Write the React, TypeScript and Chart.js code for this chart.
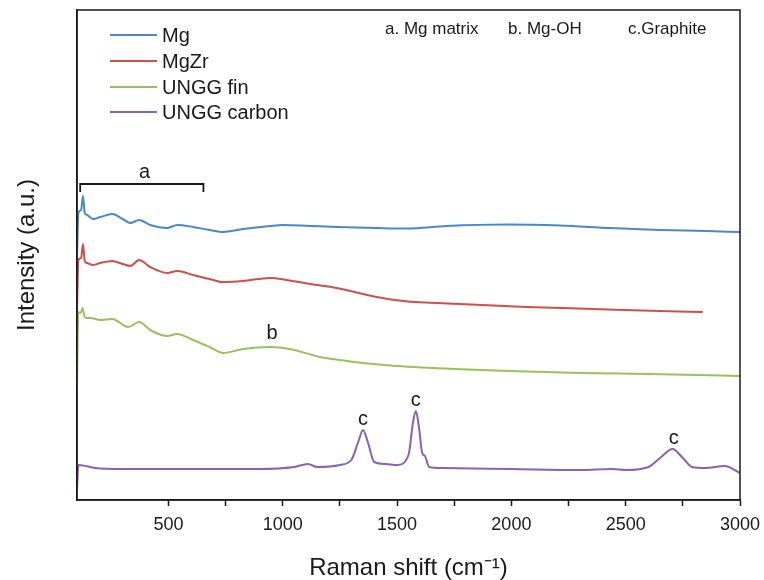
import React, { useEffect, useRef } from "react";
import { Chart, registerables } from "chart.js";

Chart.register(...registerables);

const FONT = "'Liberation Sans', Arial, sans-serif";
const INK = "#1a1a1a";

const seriesNames = ["Mg", "MgZr", "UNGG fin", "UNGG carbon"];
const seriesColors = ["#4a88cc", "#d04f4a", "#9bc25a", "#8a62b0"];

const mgX = [100, 106, 118, 126, 134, 144, 171, 202, 254, 300, 333, 372, 420, 494, 538, 608, 680, 739, 826, 944, 1001, 1120, 1236, 1411, 1542, 1716, 1979, 2211, 2430, 2648, 2850, 3000];
const mgY = [242, 287, 290, 304, 287, 285, 281, 283, 286, 281, 277, 280, 275, 272, 275, 273, 270, 268, 271, 274, 275, 274, 273, 272, 271.5, 274, 275.5, 274.5, 272, 270, 269, 268];

const mgzrX = [100, 106, 118, 126, 134, 144, 171, 202, 254, 300, 333, 372, 420, 494, 538, 608, 680, 739, 826, 944, 1017, 1120, 1236, 1411, 1527, 1775, 2065, 2357, 2648, 2837];
const mgzrY = [188, 240, 242, 256, 239, 237, 235, 237, 239, 236, 234, 240, 233, 227, 229, 225, 221, 218, 219, 222, 220, 216, 212, 203, 199, 196, 193, 191, 189, 188];

const fineX = [100, 106, 116, 124, 132, 140, 158, 202, 254, 324, 372, 420, 494, 538, 608, 680, 739, 826, 944, 1031, 1162, 1250, 1350, 1500, 1750, 2000, 2300, 2600, 3000];
const fineY = [115, 188, 187, 192, 184, 182, 182, 180, 181, 173, 178, 170, 164, 166, 160, 153, 147, 151, 153, 151, 143, 140, 137, 134, 131, 129, 127, 126, 124];

const carbonX = [100, 106, 180, 300, 500, 700, 900, 1050, 1110, 1150, 1250, 1300, 1330, 1351, 1372, 1400, 1450, 1500, 1550, 1570, 1582, 1595, 1610, 1622, 1640, 1700, 2000, 2300, 2443, 2500, 2600, 2650, 2705, 2750, 2790, 2850, 2933, 3000];
const carbonY = [10, 35, 32, 31, 31, 31, 31, 33, 36, 33, 35, 40, 58, 70, 58, 38, 36, 35, 45, 78, 89, 74, 47, 44, 33, 32, 31, 30, 31, 30, 33, 42, 51, 42, 33, 32, 34, 27];

const xTickStep = 250;
const xLabelStep = 500;

const legendRowsY = [35, 61, 87, 112];

const topNotes = ["a. Mg matrix", "b. Mg-OH", "c.Graphite"];
const topNotesX = [385, 508, 628];

const peakLabels = ["a", "b", "c", "c", "c"];
const peakLabelX = [395, 953, 1351, 1582, 2710];
const peakLabelY = [328, 167, 81, 100, 62];

const bracketX = [114, 653];
const bracketY = [316, 308];

function pts(xs: number[], ys: number[]) {
  return xs.map((x, i) => ({ x, y: ys[i] }));
}

const decorPlugin = {
  id: "decor",
  afterDraw(chart: any) {
    const { ctx, chartArea } = chart;
    const xs = chart.scales.x;
    const ys = chart.scales.y;
    ctx.save();
    ctx.strokeStyle = INK;
    ctx.lineWidth = 1.5;
    ctx.strokeRect(chartArea.left, chartArea.top, chartArea.right - chartArea.left, chartArea.bottom - chartArea.top);

    chart.data.datasets.forEach((ds: any, i: number) => {
      const y = legendRowsY[i];
      ctx.strokeStyle = ds.borderColor;
      ctx.lineWidth = 2;
      ctx.beginPath();
      ctx.moveTo(110, y);
      ctx.lineTo(157, y);
      ctx.stroke();
      ctx.fillStyle = INK;
      ctx.font = `20px ${FONT}`;
      ctx.textAlign = "left";
      ctx.textBaseline = "middle";
      ctx.fillText(ds.label, 162, y + 1);
    });

    ctx.font = `17px ${FONT}`;
    ctx.fillStyle = INK;
    ctx.textAlign = "left";
    ctx.textBaseline = "middle";
    topNotes.forEach((t, i) => ctx.fillText(t, topNotesX[i], 29));

    ctx.font = `20px ${FONT}`;
    ctx.textAlign = "center";
    peakLabels.forEach((t, i) => {
      ctx.fillText(t, xs.getPixelForValue(peakLabelX[i]), ys.getPixelForValue(peakLabelY[i]));
    });

    const x0 = xs.getPixelForValue(bracketX[0]);
    const x1 = xs.getPixelForValue(bracketX[1]);
    const yt = ys.getPixelForValue(bracketY[0]);
    const yb = ys.getPixelForValue(bracketY[1]);
    ctx.strokeStyle = INK;
    ctx.lineWidth = 1.8;
    ctx.beginPath();
    ctx.moveTo(x0, yb);
    ctx.lineTo(x0, yt);
    ctx.lineTo(x1, yt);
    ctx.lineTo(x1, yb);
    ctx.stroke();
    ctx.restore();
  },
};

export default function App() {
  const ref = useRef<HTMLCanvasElement | null>(null);
  useEffect(() => {
    if (!ref.current) return;
    const series = [pts(mgX, mgY), pts(mgzrX, mgzrY), pts(fineX, fineY), pts(carbonX, carbonY)];
    const chart = new Chart(ref.current, {
      type: "line",
      data: {
        datasets: series.map((d, i) => ({
          label: seriesNames[i],
          data: d,
          borderColor: seriesColors[i],
          backgroundColor: seriesColors[i],
          borderWidth: 2,
          pointRadius: 0,
          cubicInterpolationMode: "monotone" as const,
          fill: false,
        })),
      },
      options: {
        animation: false,
        responsive: false,
        layout: { padding: { top: 10, right: 24, left: 0, bottom: 0 } },
        plugins: { legend: { display: false }, tooltip: { enabled: false } },
        scales: {
          x: {
            type: "linear",
            min: 100,
            max: 3000,
            afterFit: (s: any) => { s.height = 80; s.paddingRight = 0; s.paddingLeft = 0; },
            afterBuildTicks: (s: any) => { s.ticks = s.ticks.filter((t: any) => t.value >= xTickStep); },
            ticks: {
              stepSize: xTickStep,
              autoSkip: false,
              maxRotation: 0,
              padding: 8,
              color: INK,
              font: { family: FONT, size: 18 },
              callback: (v: any) => (Number(v) % xLabelStep === 0 ? String(v) : ""),
            },
            grid: { drawOnChartArea: false, tickLength: 6, tickColor: INK, tickWidth: 1.5 },
            border: { color: INK, width: 1.5 },
            title: {
              display: true,
              text: "Raman shift (cm\u207B\u00B9)",
              color: INK,
              font: { family: FONT, size: 24, lineHeight: 1.0 },
              padding: { top: 0, bottom: 0 },
            },
          },
          y: {
            type: "linear",
            min: 0,
            max: 490,
            afterFit: (s: any) => { s.width = 77; },
            ticks: { display: false },
            grid: { display: false },
            border: { color: INK, width: 1.5 },
            title: {
              display: true,
              text: "Intensity (a.u.)",
              color: INK,
              font: { family: FONT, size: 24 },
              padding: { top: 13, bottom: 0 },
            },
          },
        },
      },
      plugins: [decorPlugin],
    });
    return () => chart.destroy();
  }, []);
  return (
    <div style={{ position: "absolute", left: 0, top: 0, width: 764, height: 580, background: "#fff" }}>
      <canvas ref={ref} width={764} height={580} style={{ display: "block" }} />
    </div>
  );
}
